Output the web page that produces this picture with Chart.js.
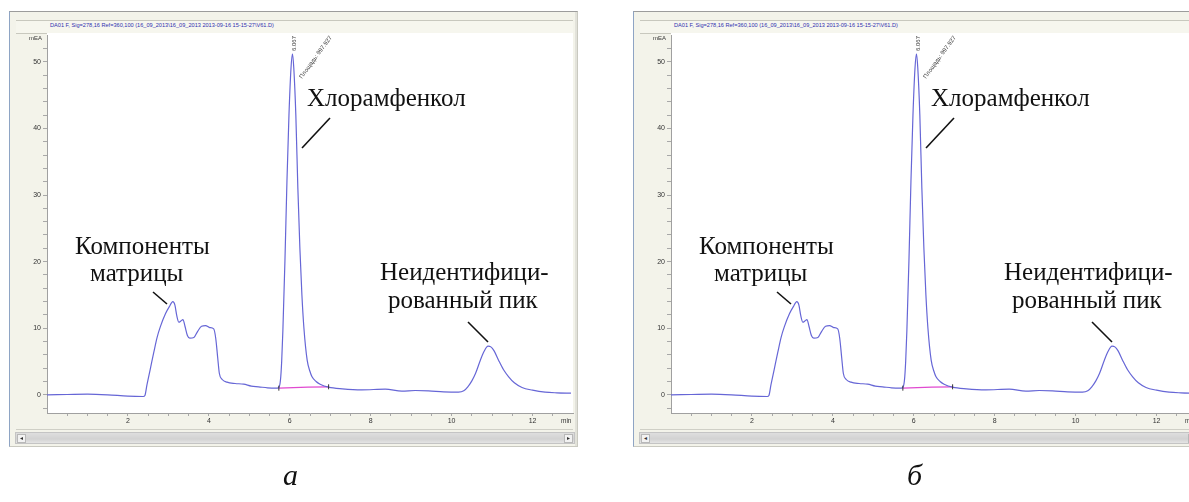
<!DOCTYPE html>
<html>
<head>
<meta charset="utf-8">
<script src="https://cdn.jsdelivr.net/npm/chart.js@4.4.1/dist/chart.umd.min.js"></script>
<style>
  html, body { margin:0; padding:0; }
  body { width:1189px; height:502px; overflow:hidden; background:#fff; position:relative; font-family:"Liberation Sans", Arial, sans-serif; }
  .grp { position:absolute; top:0; width:1189px; height:502px; }
  .win { position:absolute; left:9px; top:11px; width:567px; height:434px; background:#f3f3ea;
         border-top:1px solid #9c9c9c; border-left:1px solid #8ea4c4; border-right:1px solid #c9c9c0; border-bottom:1px solid #c9c9c0;
         box-shadow: inset -2px 0 0 #e2e2da; }
  .titlebar { position:absolute; left:16px; top:20px; width:557px; height:12px; background:#f6f6ee;
              border-top:1px solid #c8c8be; border-bottom:1px solid #c8c8be; }
  .titletxt { position:absolute; left:50px; top:22px; font-size:5.6px; color:#3030b0; white-space:nowrap; }
  .plotbg { position:absolute; left:47px; top:33px; width:526px; height:380px; background:#fff; }
  .cwrap { position:absolute; left:16px; top:29px; width:562px; height:399px; }
  .sep { position:absolute; left:16px; top:429px; width:557px; height:0; border-top:1px solid #cfcfc6; }
  .scroll { position:absolute; left:15px; top:432px; width:558px; height:10px; border:1px solid #c4c4c4;
            background:linear-gradient(#dedede,#d2d2d2 60%,#e4e4e4); }
  .sbtn { position:absolute; top:1px; width:7px; height:7px; background:#f2f2f2; border:1px solid #b8b8b8; font-size:6px; line-height:7px; text-align:center; color:#333; }
  .small { position:absolute; font-size:7px; color:#333; white-space:nowrap; }
  .big { position:absolute; font-family:"Liberation Serif","Times New Roman",serif; font-size:25px; color:#111; white-space:nowrap; line-height:28px; }
  .cap { position:absolute; font-family:"Liberation Serif","Times New Roman",serif; font-style:italic; font-size:30px; color:#111; }
  .rot { position:absolute; font-size:6px; color:#333; white-space:nowrap; transform-origin:0 0; }
  svg { position:absolute; left:0; top:0; }
</style>
</head>
<body>
<script>
// ---- data ----
const times  = [0, 0.5, 1.0, 1.5, 2.0, 2.38, 2.42, 2.47, 2.55, 2.64, 2.72, 2.8, 2.93, 3.02, 3.11, 3.16, 3.21, 3.26, 3.31, 3.36, 3.41, 3.47, 3.53, 3.63, 3.72, 3.82, 3.92, 4.02, 4.12, 4.17, 4.22, 4.26, 4.33, 4.45, 4.65, 4.86, 5.05, 5.23, 5.45, 5.65, 5.72, 5.77, 5.8, 5.83, 5.88, 5.93, 5.98, 6.03, 6.067, 6.1, 6.15, 6.2, 6.25, 6.3, 6.35, 6.43, 6.5, 6.55, 6.65, 6.75, 6.96, 7.3, 7.78, 8.36, 8.77, 9.1, 9.43, 9.8, 10.17, 10.3, 10.4, 10.5, 10.59, 10.71, 10.8, 10.9, 10.97, 11.05, 11.16, 11.28, 11.41, 11.55, 11.74, 12.0, 12.31, 12.6, 12.95];
const signal = [0, 0.05, 0.1, 0.0, -0.2, -0.25, -0.1, 1.5, 3.8, 6.4, 8.6, 10.2, 12.2, 13.2, 14.0, 13.5, 11.8, 10.9, 11.1, 11.3, 10.3, 8.9, 8.5, 8.6, 9.5, 10.3, 10.4, 10.1, 9.9, 8.5, 5.5, 3.2, 2.3, 1.9, 1.7, 1.6, 1.3, 1.2, 1.05, 1.0, 1.05, 2.2, 5.0, 9.7, 20, 32, 42, 49, 51.2, 49, 42, 31, 22, 15, 10, 5.2, 3.5, 2.7, 2.0, 1.6, 1.15, 0.9, 0.75, 0.85, 0.55, 0.65, 0.6, 0.45, 0.4, 0.6, 1.2, 2.1, 3.2, 5.2, 6.5, 7.3, 7.2, 6.6, 5.2, 3.8, 2.7, 1.8, 1.1, 0.7, 0.4, 0.3, 0.25];
const baseTimes  = [5.73, 6.45, 6.96];
const baseSignal = [1.0, 1.15, 1.2];
const markTimes  = [5.73, 6.96];
const markSignal = [1.0, 1.2];
const xTickValues  = [0.5, 1, 1.5, 2, 2.5, 3, 3.5, 4, 4.5, 5, 5.5, 6, 6.5, 7, 7.5, 8, 8.5, 9, 9.5, 10, 10.5, 11, 11.5, 12, 12.5];
const xLabelValues = [2, 4, 6, 8, 10, 12];
const yTickValues  = [-2, 0, 2, 4, 6, 8, 10, 12, 14, 16, 18, 20, 22, 24, 26, 28, 30, 32, 34, 36, 38, 40, 42, 44, 46, 48, 50, 52];
const yLabelValues = [0, 10, 20, 30, 40, 50];
const titleText = "DA01 F, Sig=278,16 Ref=360,100 (16_09_2013\\16_09_2013 2013-09-16 15-15-27\\V61.D)";
const panelOffsets = [0, 624];
const captions = ["а", "б"];

function groupHTML(i, dx) {
  return `
  <div class="grp" style="left:${dx}px">
    <div class="win"></div>
    <div class="titlebar"></div>
    <div class="titletxt">${titleText}</div>
    <div class="plotbg"></div>
    <div class="cwrap"><canvas id="c${i}" width="562" height="399"></canvas></div>
    <div class="small" style="left:29px;top:35px;font-size:6px;">mEA</div>
    <div class="small" style="left:561px;top:417px;font-size:6.5px;">min</div>
    <div class="sep"></div>
    <div class="scroll"><div class="sbtn" style="left:1px">&#9666;</div><div class="sbtn" style="right:1px">&#9656;</div></div>
    <div class="rot" style="left:291px;top:51px;transform:rotate(-90deg);">6.067</div>
    <div class="rot" style="left:298px;top:76px;transform:rotate(-54deg);">Площадь: 997.927</div>
    <div class="big" style="left:307px;top:84px;">Хлорамфенкол</div>
    <div class="big" style="left:75px;top:232px;">Компоненты</div>
    <div class="big" style="left:90px;top:259px;">матрицы</div>
    <div class="big" style="left:380px;top:258px;">Неидентифици-</div>
    <div class="big" style="left:388px;top:286px;">рованный пик</div>
    <svg width="1189" height="502">
      <line x1="330" y1="118" x2="302" y2="148" stroke="#111" stroke-width="1.6"/>
      <line x1="153" y1="292" x2="167" y2="304" stroke="#111" stroke-width="1.6"/>
      <line x1="468" y1="322" x2="488" y2="342" stroke="#111" stroke-width="1.6"/>
    </svg>
    <div class="cap" style="left:283px;top:458px;">${captions[i]}</div>
  </div>`;
}
document.write(panelOffsets.map((dx, i) => groupHTML(i, dx)).join(''));

function makeChart(id) {
  const ctx = document.getElementById(id);
  new Chart(ctx, {
    type: 'line',
    data: {
      datasets: [
        { data: times.map((t, k) => ({x: t, y: signal[k]})), borderColor: '#6666d6', borderWidth: 1.2,
          pointRadius: 0, cubicInterpolationMode: 'monotone', fill: false, order: 1 },
        { data: baseTimes.map((t, k) => ({x: t, y: baseSignal[k]})), borderColor: '#e04ad0', borderWidth: 1.2,
          pointRadius: 0, tension: 0, fill: false, order: 2 },
        { type: 'scatter', data: markTimes.map((t, k) => ({x: t, y: markSignal[k]})), pointStyle: 'line', rotation: 90,
          pointRadius: 2.5, borderColor: '#333', borderWidth: 1, showLine: false, order: 0 }
      ]
    },
    options: {
      responsive: false, animation: false,
      layout: { padding: 0 },
      plugins: { legend: { display: false }, tooltip: { enabled: false } },
      scales: {
        x: {
          type: 'linear', min: 0, max: 13,
          afterBuildTicks: s => { s.ticks = xTickValues.map(v => ({value: v})); },
          afterFit: s => { s.height = 15; },
          grid: { drawOnChartArea: false, drawTicks: true, tickLength: 3, color: '#a8a8a8' },
          border: { display: true, color: '#a0a0a0' },
          ticks: { autoSkip: false, maxRotation: 0, padding: 1, color: '#333', font: { size: 7, family: 'Liberation Sans' },
                   callback: v => xLabelValues.includes(v) ? String(v) : '' }
        },
        y: {
          type: 'linear', min: -2.73, max: 54.0,
          afterBuildTicks: s => { s.ticks = yTickValues.map(v => ({value: v})); },
          afterFit: s => { s.width = 31; },
          grid: { drawOnChartArea: false, drawTicks: true, tickLength: 4, color: '#a8a8a8' },
          border: { display: true, color: '#a0a0a0' },
          ticks: { autoSkip: false, padding: 2, color: '#333', font: { size: 7, family: 'Liberation Sans' },
                   callback: v => yLabelValues.includes(v) ? String(v) : '' }
        }
      }
    }
  });
}
makeChart('c0');
makeChart('c1');
</script>
</body>
</html>
